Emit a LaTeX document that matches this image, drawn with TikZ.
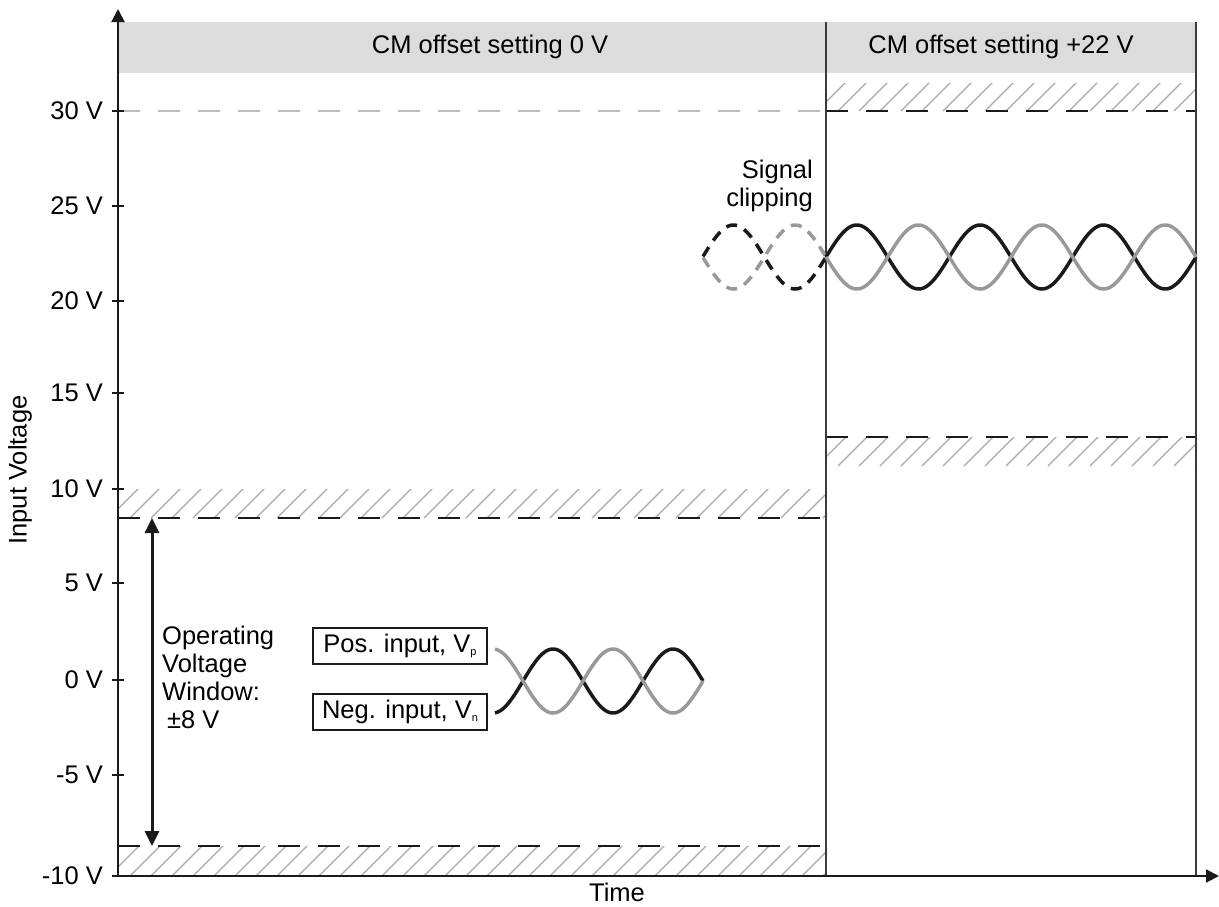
\documentclass[tikz,border=0pt]{standalone}
\usepackage{fontspec}
\setmainfont{Liberation Sans}
\usetikzlibrary{arrows.meta}
\definecolor{hdr}{HTML}{DCDCDC}
\definecolor{wgray}{HTML}{999999}
\definecolor{hgray}{HTML}{A8A8A8}
\definecolor{lgray}{HTML}{BDBDBD}
\definecolor{ink}{HTML}{1A1A1A}
\newcommand\hatchband[4]{%
  \begin{scope}
    \clip (#1,#2) rectangle (#3,#4);
    \foreach \k in {0,21,...,840} {
      \draw[hatchline] ({#1+\k-30},#4) -- ++(45,-45);
    }
  \end{scope}}
\begin{document}
\begin{tikzpicture}[x=1pt,y=-1pt,
  font=\fontsize{25.5}{28}\selectfont,
  axis/.style={line width=2pt, draw=ink},
  divider/.style={line width=1.4pt, draw=ink!85},
  limit/.style={line width=2pt, draw=ink, dash pattern=on 22pt off 18pt},
  softlimit/.style={line width=1.6pt, draw=lgray, dash pattern=on 22pt off 18pt},
  hatchline/.style={line width=1.1pt, draw=hgray},
  wave/.style={line width=3.5pt},
  clipwave/.style={line width=3.5pt, dash pattern=on 11pt off 8pt},
  ticklab/.style={anchor=east, inner sep=0pt},
  legendbox/.style={draw=ink, line width=1.5pt, inner sep=2pt, minimum width=174pt, minimum height=36pt, align=center},
  tip/.style={-{Triangle[length=13pt,width=13pt]}},
]
\useasboundingbox (0,0) rectangle (1219,906);

% header band
\fill[hdr] (118,22) rectangle (1196,73);
\node (h0) at (490,47) {CM offset setting 0 V};
\node (h22) at (1001,47) {CM offset setting +22 V};

% hatched bands
\hatchband{118}{489}{826}{518}
\hatchband{118}{846}{826}{876}
\hatchband{826}{83}{1196}{111}
\hatchband{826}{437}{1196}{466}

% limit lines
\draw[softlimit] (118,111) -- (826,111);
\draw[limit] (118,518) -- (826,518);
\draw[limit] (118,846) -- (826,846);
\draw[limit] (826,111) -- (1196,111);
\draw[limit] (826,437) -- (1196,437);

% dividers
\draw[divider] (826,22) -- (826,876);
\draw[divider] (1196,22) -- (1196,876);

% axes
\coordinate (o) at (118,876);
\coordinate (ytip) at (118,9);
\coordinate (xtip) at (1219,876);
\draw[axis, tip] (o) -- (ytip);
\draw[axis, tip] (o) -- (xtip);

% ticks and labels
\foreach \v/\y in {30 V/111, 25 V/206, 20 V/301, 15 V/393, 10 V/489, 5 V/583, 0 V/680, -5 V/775, -10 V/876} {
  \draw[line width=1.6pt, ink] (112,\y) -- (124,\y);
  \node[ticklab] at (103,\y) {\v};
}
\node[rotate=90] (ylab) at (20,470) {Input Voltage};
\node[inner sep=0pt] (xlab) at (617,892) {Time};

% operating window arrow
\coordinate (wtop) at (152,518);
\coordinate (wbot) at (152,846);
\draw[line width=3pt, ink, {Triangle[length=15pt,width=14pt]}-{Triangle[length=15pt,width=14pt]}] (wtop) -- (wbot);
\node[anchor=north west, align=left, inner sep=0pt] (opw) at (162,626)
  {Operating\\Voltage\\Window:\\\hspace{5pt}±8 V};

% legend
\node[legendbox] (pos) at (400,646) {Pos. input, V\raisebox{-3pt}{\fontsize{11}{11}\selectfont p}};
\node[legendbox] (neg) at (400,712) {Neg. input, V\raisebox{-3pt}{\fontsize{11}{11}\selectfont n}};

% 0 V waves
\draw[wave, ink] plot[domain=495:703, samples=120] (\x, {681-32*sin(3*(\x-523))});
\draw[wave, wgray] plot[domain=495:703, samples=120] (\x, {681+32*sin(3*(\x-523))});

% clipping waves (dashed)
\draw[clipwave, ink] plot[domain=703:826, samples=80] (\x, {257-32*sin(2.919*(\x-826))});
\draw[clipwave, wgray] plot[domain=703:826, samples=80] (\x, {257+32*sin(2.919*(\x-826))});
\node[align=right, anchor=east, inner sep=0pt] (clip) at (813,186) {Signal\\clipping};

% +22 V waves
\draw[wave, ink] plot[domain=826:1196, samples=200] (\x, {257-32*sin(2.919*(\x-826))});
\draw[wave, wgray] plot[domain=826:1196, samples=200] (\x, {257+32*sin(2.919*(\x-826))});
\end{tikzpicture}
\end{document}
